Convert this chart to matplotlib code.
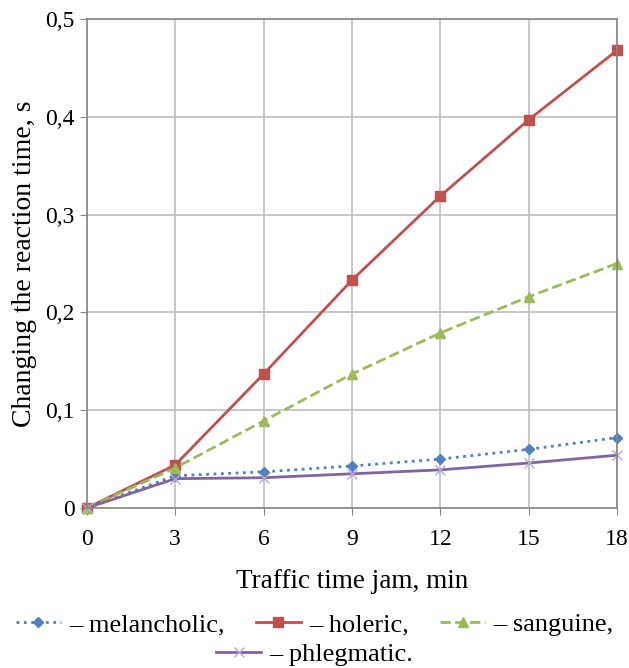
import numpy as np
import matplotlib
matplotlib.use("Agg")
import matplotlib.pyplot as plt
from matplotlib.ticker import FuncFormatter

# data
minutes = [0, 3, 6, 9, 12, 15, 18]
melancholic = [0.0, 0.033, 0.037, 0.043, 0.050, 0.060, 0.072]
holeric = [0.0, 0.044, 0.137, 0.233, 0.319, 0.397, 0.468]
sanguine = [0.0, 0.041, 0.089, 0.137, 0.179, 0.216, 0.250]
phlegmatic = [0.0, 0.030, 0.031, 0.035, 0.039, 0.046, 0.054]

plt.rcParams['font.family'] = ['Liberation Serif', 'DejaVu Serif']

fig = plt.figure(figsize=(6.29, 6.68), dpi=100)
ax = fig.add_axes([0.138, 0.2395, 0.843, 0.732])

l1, = ax.plot(minutes, melancholic, color='#4F81BD', linestyle=':', linewidth=2,
              marker='D', markersize=5, label='– melancholic,', clip_on=False)
l2, = ax.plot(minutes, holeric, color='#C0504D', linestyle='-', linewidth=2,
              marker='s', markersize=7, label='– holeric,', clip_on=False)
l3, = ax.plot(minutes, sanguine, color='#9BBB59', linestyle='--', linewidth=2,
              marker='^', markersize=7, label='– sanguine,', clip_on=False)
l4, = ax.plot(minutes, phlegmatic, color='#8064A2', linestyle='-', linewidth=2,
              marker='x', markersize=7, markeredgecolor='#B9A6D0', label='– phlegmatic.',
              clip_on=False)

ax.set_xlim(0, 18)
ax.set_ylim(0, 0.5)
ax.set_xticks(minutes)
ax.set_yticks([0, 0.1, 0.2, 0.3, 0.4, 0.5])
ax.yaxis.set_major_formatter(FuncFormatter(lambda v, p: '0' if v == 0 else f'{v:.1f}'.replace('.', ',')))
ax.grid(True, color='#BFBFBF', linewidth=1.2)
ax.set_axisbelow(True)
for s in ax.spines.values():
    s.set_color('#868686')
    s.set_linewidth(1.2)
ax.tick_params(colors='#868686', labelcolor='black', labelsize=17, length=5)
ax.tick_params(axis='x', pad=10)

ax.set_xlabel('Traffic time jam, min', fontsize=19.5, labelpad=14)
ax.set_ylabel('Changing the reaction time, s', fontsize=20, labelpad=6)

fig.legend(handles=[l1, l2, l3], ncol=3, loc='center', bbox_to_anchor=(0.5, 0.065),
           frameon=False, fontsize=19, handlelength=1.7, handletextpad=0.3,
           columnspacing=1.2, borderpad=0, borderaxespad=0)
fig.legend(handles=[l4], loc='center', bbox_to_anchor=(0.5, 0.02),
           frameon=False, fontsize=19, handlelength=1.7, handletextpad=0.3,
           borderpad=0, borderaxespad=0)

fig.savefig('out.png', dpi=100)
